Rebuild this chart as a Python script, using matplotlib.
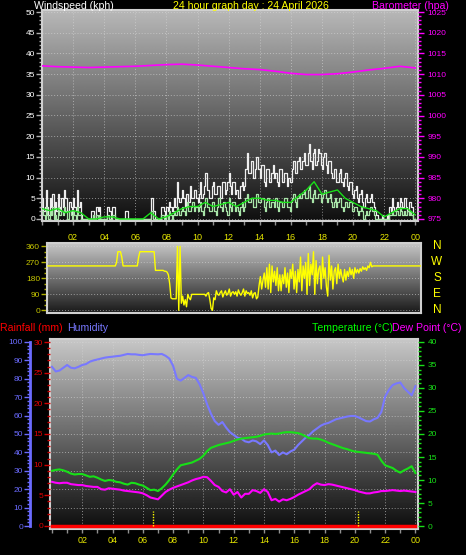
import numpy as np
import matplotlib
matplotlib.use('Agg')
import matplotlib.pyplot as plt
from matplotlib.ticker import MultipleLocator, FixedLocator
import matplotlib.transforms as mtransforms

# ---------------- data ----------------
# wind gust (kph), 5-minute samples 00:00 .. 24:00
gust = [5, 2, 3, 7, 3, 1, 5, 3, 6, 1, 4, 2,
        6, 3, 2, 5, 3, 7, 5, 2, 2, 4, 3, 1,
        5, 3, 2, 7, 3, 4, 1, 0, 0, 0, 0, 0,
        0, 0, 2, 2, 0, 0, 3, 2, 3, 0, 0, 0,
        0, 0, 3, 3, 2, 0, 3, 3, 0, 0, 0, 0,
        0, 0, 0, 0, 2, 2, 0, 0, 0, 0, 0, 0,
        0, 0, 0, 0, 0, 0, 0, 0, 0, 0, 0, 0,
        5, 5, 2, 0, 0, 0, 0, 0, 3, 3, 2, 0,
        3, 2, 4, 3, 2, 3, 5, 3, 9, 5, 4, 5,
        7, 5, 3, 6, 6, 4, 8, 5, 5, 7, 7, 5,
        4, 6, 9, 5, 6, 8, 11, 7, 7, 5, 5, 8,
        9, 6, 6, 8, 8, 5, 5, 9, 9, 6, 7, 9,
        11, 8, 6, 9, 9, 6, 7, 5, 5, 8, 9, 7,
        8, 12, 16, 11, 11, 14, 14, 10, 12, 15, 15, 12,
        10, 13, 13, 9, 8, 12, 12, 9, 9, 11, 13, 10,
        11, 9, 8, 12, 12, 9, 9, 11, 11, 8, 10, 9,
        9, 12, 14, 11, 11, 14, 15, 12, 12, 14, 16, 13,
        13, 16, 18, 14, 12, 16, 17, 13, 14, 17, 16, 13,
        12, 15, 16, 13, 11, 14, 14, 11, 10, 12, 12, 9,
        9, 11, 12, 9, 8, 10, 11, 8, 7, 9, 9, 6,
        5, 7, 8, 5, 4, 6, 7, 4, 3, 5, 6, 4,
        4, 5, 6, 4, 3, 2, 1, 0, 0, 0, 1, 0,
        0, 0, 1, 0, 3, 2, 5, 3, 2, 3, 4, 3,
        5, 4, 3, 5, 5, 3, 2, 4, 4, 3, 0, 0, 0]
# wind speed (kph), 5-minute samples
wind = [2, 1, 0, 3, 1, 0, 2, 1, 3, 0, 1, 0,
        3, 1, 1, 2, 1, 3, 2, 0, 0, 2, 1, 0,
        2, 1, 0, 3, 1, 1, 0, 0, 0, 0, 0, 0,
        0, 0, 0, 1, 0, 0, 1, 0, 1, 0, 0, 0,
        0, 0, 1, 1, 0, 0, 1, 1, 0, 0, 0, 0,
        0, 0, 0, 0, 0, 0, 0, 0, 0, 0, 0, 0,
        0, 0, 0, 0, 0, 0, 0, 0, 0, 0, 0, 0,
        2, 2, 0, 0, 0, 0, 0, 0, 1, 1, 0, 0,
        1, 0, 2, 1, 0, 1, 2, 1, 3, 2, 1, 2,
        3, 2, 1, 3, 4, 2, 2, 3, 4, 2, 3, 3,
        2, 3, 4, 2, 1, 3, 5, 3, 3, 2, 2, 4,
        4, 2, 1, 3, 5, 3, 3, 2, 4, 3, 2, 1,
        5, 3, 2, 4, 4, 2, 3, 2, 1, 3, 4, 2,
        3, 5, 6, 4, 4, 5, 5, 3, 3, 6, 6, 4,
        4, 5, 5, 3, 2, 4, 5, 3, 3, 4, 4, 3,
        5, 3, 2, 4, 4, 3, 3, 5, 5, 3, 3, 2,
        4, 5, 6, 4, 3, 5, 6, 5, 5, 6, 7, 5,
        5, 7, 8, 5, 4, 6, 7, 5, 5, 6, 6, 4,
        5, 6, 7, 5, 4, 5, 6, 4, 3, 4, 5, 3,
        4, 5, 5, 3, 2, 3, 4, 3, 3, 4, 4, 2,
        2, 3, 3, 2, 1, 2, 3, 2, 0, 1, 2, 1,
        2, 3, 3, 2, 1, 0, 0, 0, 0, 0, 0, 0,
        0, 0, 0, 0, 1, 1, 2, 1, 1, 2, 2, 1,
        3, 2, 1, 2, 1, 1, 2, 1, 2, 1, 0, 0, 0]
# average wind speed (kph), 30-minute samples
avg_wind = [2.5, 2.0, 2.5, 1.5, 2.0, 1.5, 0, 0, 0.5, 0.5, 0, 0,
            0, 0, 1.5, 0, 0.5, 1.5, 2.5, 3, 3, 4, 3, 3.5,
            4, 3, 4, 5, 5, 4.5, 4.5, 4, 4, 5.5, 7, 9,
            6, 6.5, 7, 5, 4, 3, 2.5, 2, 0.5, 1.5, 2.5, 2.5, 1]
# barometer (hPa), hourly
pressure = [1012.0, 1011.8, 1011.7, 1011.6, 1011.7, 1011.8, 1011.9, 1012.1,
            1012.3, 1012.4, 1012.2, 1011.9, 1011.6, 1011.3, 1011.1, 1010.7,
            1010.2, 1009.9, 1009.9, 1010.1, 1010.5, 1011.0, 1011.4, 1011.9, 1011.5]
# wind direction (degrees), 5-minute samples
bearing = [250, 250, 250, 250, 250, 250, 250, 250, 250, 250, 250, 250,
           250, 250, 250, 250, 250, 250, 250, 250, 250, 250, 250, 250,
           250, 250, 250, 250, 250, 250, 250, 250, 250, 250, 250, 250,
           250, 250, 250, 250, 250, 250, 250, 250, 250, 250, 250, 250,
           250, 250, 250, 250, 250, 270, 330, 330, 330, 300, 250, 250,
           250, 250, 250, 250, 250, 250, 250, 250, 250, 250, 300, 330,
           330, 330, 330, 330, 330, 330, 330, 330, 330, 330, 330, 225,
           225, 225, 225, 225, 225, 225, 220, 220, 215, 200, 150, 70,
           65, 65, 65, 65, 360, 0, 360, 40, 80, 30, 60, 20,
           90, 70, 60, 90, 90, 90, 90, 90, 90, 90, 90, 90,
           90, 90, 80, 95, 100, 60, 10, 0, 70, 60, 110, 90,
           85, 100, 110, 75, 95, 110, 85, 95, 120, 80, 100, 105,
           90, 105, 80, 115, 95, 85, 100, 120, 80, 110, 95, 100,
           85, 110, 70, 95, 100, 65, 75, 140, 190, 120, 170, 210,
           130, 240, 120, 260, 100, 250, 160, 220, 140, 240, 110, 200,
           110, 200, 150, 240, 130, 210, 100, 230, 180, 260, 120, 220,
           100, 230, 160, 300, 110, 250, 180, 270, 90, 320, 140, 260,
           200, 330, 90, 280, 150, 230, 250, 120, 300, 180, 240, 130,
           80, 310, 170, 250, 120, 220, 240, 150, 260, 180, 230, 190,
           160, 230, 170, 220, 190, 240, 200, 230, 180, 240, 210, 230,
           210, 235, 220, 245, 230, 240, 225, 250, 240, 270, 245, 250,
           250, 250, 250, 250, 250, 250, 250, 250, 250, 250, 250, 250,
           250, 250, 250, 250, 250, 250, 250, 250, 250, 250, 250, 250,
           250, 250, 250, 250, 250, 250, 250, 250, 250, 250, 250, 250, 250]
# temperature, dew point (degC) and humidity (%), 15-minute samples
temperature = [12.0, 12.2, 12.3, 12.1, 11.8, 11.4, 11.2, 11.3,
               11.3, 11.0, 10.7, 10.8, 10.5, 10.1, 9.8, 10.0,
               9.9, 9.6, 9.5, 9.2, 9.0, 9.4, 9.3, 9.0,
               8.8, 8.3, 7.8, 7.9, 7.6, 8.2, 9.0, 10.0,
               11.2, 12.3, 13.2, 13.4, 13.6, 13.8, 14.2, 14.6,
               15.3, 16.3, 17.0, 17.3, 17.6, 17.8, 18.0, 18.2,
               18.5, 18.8, 19.0, 19.1, 19.2, 19.3, 19.4, 19.6,
               19.9, 20.0, 20.1, 20.0, 20.1, 20.3, 20.4, 20.4,
               20.3, 20.2, 19.9, 19.5, 19.1, 19.0, 19.0, 18.8,
               18.5, 18.1, 17.8, 17.5, 17.2, 16.9, 16.7, 16.4,
               16.2, 16.1, 16.0, 15.9, 15.8, 15.7, 15.5, 14.2,
               13.2, 12.9, 12.6, 12.0, 11.6, 12.1, 12.5, 13.0, 11.5]
dewpoint = [9.6, 9.4, 9.3, 9.4, 9.4, 9.1, 9.0, 8.9,
            8.9, 8.7, 8.6, 8.5, 8.5, 8.0, 7.9, 8.2,
            8.1, 8.0, 7.9, 7.7, 7.6, 7.5, 7.4, 7.3,
            7.1, 6.7, 6.2, 6.0, 5.8, 6.6, 7.4, 7.9,
            8.3, 8.6, 8.9, 9.2, 9.5, 9.9, 10.2, 10.4,
            10.7, 10.6, 9.8, 8.9, 8.5, 7.6, 7.3, 8.0,
            6.8, 7.4, 6.2, 7.0, 7.0, 7.8, 7.6, 7.2,
            8.0, 7.4, 5.6, 5.9, 5.3, 5.8, 5.6, 5.9,
            6.3, 6.8, 7.2, 7.6, 8.0, 8.8, 9.3, 9.0,
            8.9, 9.1, 9.0, 8.8, 8.6, 8.4, 8.2, 8.0,
            7.8, 7.5, 7.3, 7.1, 7.1, 7.3, 7.4, 7.6,
            7.6, 7.7, 7.8, 7.7, 7.6, 7.7, 7.6, 7.5, 7.4]
humidity = [86.5, 84.0, 84.5, 86.0, 87.5, 86.0, 85.7, 86.5,
            87.5, 88.0, 89.3, 90.0, 90.5, 91.0, 91.5, 91.8,
            92.0, 92.3, 92.5, 93.0, 93.5, 93.3, 93.3, 93.0,
            92.8, 93.2, 93.5, 93.4, 93.3, 93.5, 92.5, 91.0,
            87.0, 80.0, 79.0, 80.5, 82.0, 81.0, 80.5, 77.0,
            72.0, 66.0, 61.0, 57.0, 55.0, 56.5, 53.5, 51.0,
            49.5, 48.0, 47.5, 46.0, 45.5, 46.5, 46.0, 44.5,
            46.5, 44.0, 40.0, 41.0, 38.6, 40.0, 39.0, 40.5,
            41.5, 44.0, 46.0, 48.0, 49.5, 51.5, 53.0, 54.5,
            55.5, 56.0, 57.0, 58.0, 58.5, 59.0, 59.5, 59.8,
            59.8, 59.0, 58.0, 57.0, 56.8, 58.0, 58.8, 62.0,
            70.3, 74.0, 76.6, 77.5, 78.0, 75.0, 73.0, 71.0, 76.0]
# rainfall (mm), hourly
rainfall = [0, 0, 0, 0, 0, 0, 0, 0, 0, 0, 0, 0, 0,
            0, 0, 0, 0, 0, 0, 0, 0, 0, 0, 0, 0]
# sunrise / sunset (hours)
sun_events = [6.67, 20.2]

hour_ticks = [2, 4, 6, 8, 10, 12, 14, 16, 18, 20, 22, 24]
hour_labels = ['02', '04', '06', '08', '10', '12', '14', '16', '18', '20', '22', '00']
compass_labels = ['N', 'W', 'S', 'E', 'N']
compass_degrees = [360, 270, 180, 90, 0]

t5 = np.arange(len(gust)) / 12.0
t5b = np.arange(len(bearing)) / 12.0
t15 = np.arange(len(temperature)) / 4.0
t30 = np.arange(len(avg_wind)) / 2.0
t60 = np.arange(len(pressure))

# ---------------- figure ----------------
plt.rcParams['font.family'] = ['Liberation Sans', 'DejaVu Sans']
W, H = 466, 555
fig = plt.figure(figsize=(W / 100, H / 100), dpi=100, facecolor='black')

YEL = '#e8e800'
MAG = '#ff00ff'
GRID = dict(color='#d8d8d8', linestyle=(0, (1, 2)), linewidth=0.7, alpha=0.6)


def px_axes(x0, y0, x1, y1):
    return fig.add_axes([x0 / W, 1 - y1 / H, (x1 - x0) / W, (y1 - y0) / H])


def add_gradient(ax, top, bottom):
    g = np.linspace(top, bottom, 256).reshape(-1, 1)
    ax.imshow(g, cmap='gray', vmin=0, vmax=1, aspect='auto', extent=[0, 1, 0, 1],
              transform=ax.transAxes, zorder=0, interpolation='bilinear')


def frame(ax):
    for s in ax.spines.values():
        s.set_color('#d0d0d0')
        s.set_linewidth(1.5)


def hide_spines(ax):
    for s in ax.spines.values():
        s.set_visible(False)


# ---- top panel: wind speed + barometer ----
ax1 = px_axes(42, 10, 418, 221)
ax1.set_facecolor('black')
add_gradient(ax1, 0.72, 0.06)
ax1.step(t5, gust, where='post', color='#eeeeee', lw=0.9, zorder=3)
ax1.step(t5, wind, where='post', color='#a8e4a8', lw=0.9, zorder=4)
ax1.plot(t30, avg_wind, color='#18e018', lw=1.0, zorder=5)
ax1.set_xlim(0, 24.18)
ax1.set_ylim(-0.5, 50.5)
ax1.yaxis.set_major_locator(MultipleLocator(5))
ax1.yaxis.set_minor_locator(MultipleLocator(1))
ax1.xaxis.set_major_locator(FixedLocator(hour_ticks))
ax1.set_xticklabels(hour_labels)
ax1.xaxis.set_minor_locator(MultipleLocator(1))
ax1.grid(True, which='major', **GRID)
frame(ax1)
ax1.tick_params(axis='y', which='major', length=4, width=1, color='#b0b0b0',
                labelcolor='white', labelsize=6, pad=1)
ax1.tick_params(axis='y', which='minor', length=2, width=1, color='#b0b0b0')
ax1.tick_params(axis='x', which='major', length=3, width=1, color='#909090',
                labelcolor=YEL, labelsize=6.5, pad=6)
ax1.tick_params(axis='x', which='minor', length=3, width=1, color='#909090')

ax1b = ax1.twinx()
hide_spines(ax1b)
ax1b.plot(t60, pressure, color=MAG, lw=1.2, zorder=6)
ax1b.set_ylim(974.5, 1025.5)
ax1b.yaxis.set_major_locator(MultipleLocator(5))
ax1b.yaxis.set_minor_locator(MultipleLocator(1))
ax1b.tick_params(axis='y', which='major', length=4, width=1, color=MAG,
                 labelcolor=MAG, labelsize=6, pad=3)
ax1b.tick_params(axis='y', which='minor', length=2, width=1, color=MAG)

# ---- middle panel: wind direction ----
ax2 = px_axes(47, 243, 421, 313)
ax2.set_facecolor('black')
add_gradient(ax2, 0.78, 0.10)
ax2.plot(t5b, bearing, color='#ffff00', lw=1.0, zorder=3)
ax2.set_xlim(-0.06, 24.0)
ax2.set_ylim(-15, 379)
ax2.yaxis.set_major_locator(FixedLocator(compass_degrees))
ax2.yaxis.set_minor_locator(MultipleLocator(30))
ax2.grid(True, which='major', axis='y', **GRID)
frame(ax2)
ax2.tick_params(axis='x', bottom=False, labelbottom=False)
ax2.tick_params(axis='y', which='major', length=4, width=1, color='#b0b000',
                labelcolor='#c8c800', labelsize=6, pad=1)
ax2.tick_params(axis='y', which='minor', length=2, width=1, color='#b0b000')
trans2 = mtransforms.blended_transform_factory(ax2.transAxes, ax2.transData)
for lab, deg in zip(compass_labels, compass_degrees):
    ax2.text((437 - 47) / 374, deg, lab, transform=trans2, color='#ffff00',
             fontsize=8.5, ha='center', va='center')

# ---- bottom panel: temperature / humidity / rain ----
ax3 = px_axes(50, 339, 418, 529)
ax3.set_facecolor('black')
add_gradient(ax3, 0.78, 0.05)
ax3.plot(t15, humidity, color='#7878ff', lw=1.5, zorder=3)
ax3.set_xlim(-0.13, 24.17)
ax3.set_ylim(-1.63, 101.63)
ax3.yaxis.set_major_locator(MultipleLocator(10))
ax3.xaxis.set_major_locator(FixedLocator(hour_ticks))
ax3.set_xticklabels(hour_labels)
ax3.xaxis.set_minor_locator(MultipleLocator(1))
ax3.grid(True, which='major', **GRID)
frame(ax3)
ax3.tick_params(axis='y', which='both', left=False, labelleft=False)
ax3.tick_params(axis='x', which='major', length=3, width=1, color='#909090',
                labelcolor=YEL, labelsize=6.5, pad=2)
ax3.tick_params(axis='x', which='minor', length=3, width=1, color='#909090')

axr = ax3.twinx()
hide_spines(axr)
axr.yaxis.tick_left()
axr.plot(t60, rainfall, color='#ff0000', lw=2.5, zorder=5)
axr.set_ylim(-0.49, 30.49)
axr.yaxis.set_major_locator(MultipleLocator(5))
axr.yaxis.set_minor_locator(MultipleLocator(1))
axr.tick_params(axis='y', which='major', length=4, width=1, color='#d00000',
                labelcolor='#e00000', labelsize=6, pad=1)
axr.tick_params(axis='y', which='minor', length=2, width=1, color='#d00000')

axh = ax3.twinx()
hide_spines(axh)
axh.yaxis.tick_left()
axh.spines['left'].set_visible(True)
axh.spines['left'].set_position(('axes', -20 / 368))
axh.spines['left'].set_color('#6b6bff')
axh.spines['left'].set_linewidth(2)
axh.set_ylim(-1.63, 101.63)
axh.spines['left'].set_bounds(0, 100)
axh.yaxis.set_major_locator(MultipleLocator(10))
axh.yaxis.set_minor_locator(MultipleLocator(2))
axh.tick_params(axis='y', which='major', length=4, width=1, color='#6b6bff',
                labelcolor='#6b6bff', labelsize=6, pad=1)
axh.tick_params(axis='y', which='minor', length=2, width=1, color='#6b6bff')

axt = ax3.twinx()
hide_spines(axt)
axt.plot(t15, temperature, color='#18e018', lw=1.5, zorder=4)
axt.plot(t15, dewpoint, color=MAG, lw=1.5, zorder=4)
axt.vlines(sun_events, 0, 3.2, colors='#ffff00', linestyles=(0, (1, 1)), lw=1)
axt.set_ylim(-0.65, 40.65)
axt.yaxis.set_major_locator(MultipleLocator(5))
axt.yaxis.set_minor_locator(MultipleLocator(1))
axt.tick_params(axis='y', which='major', length=4, width=1, color='#18e018',
                labelcolor='#18e018', labelsize=6, pad=3)
axt.tick_params(axis='y', which='minor', length=2, width=1, color='#18e018')

# ---- titles ----
def ftext(x, y, s, color, ha='left'):
    fig.text(x / W, 1 - y / H, s, color=color, fontsize=7.6, ha=ha, va='baseline')

ftext(34, 9, 'Windspeed (kph)', 'white')
ftext(251, 9, '24 hour graph day : 24 April 2026', '#ffff00', ha='center')
ftext(372, 9, 'Barometer (hpa)', MAG)
ftext(0, 331, 'Rainfall (mm)', '#ff0000')
ftext(67, 331, 'Humidity', '#7878ff')
ftext(312, 331, 'Temperature (°C)', '#00ff00')
ftext(462, 331, 'Dew Point (°C)', MAG, ha='right')

fig.savefig('out.png', dpi=100, facecolor='black')
